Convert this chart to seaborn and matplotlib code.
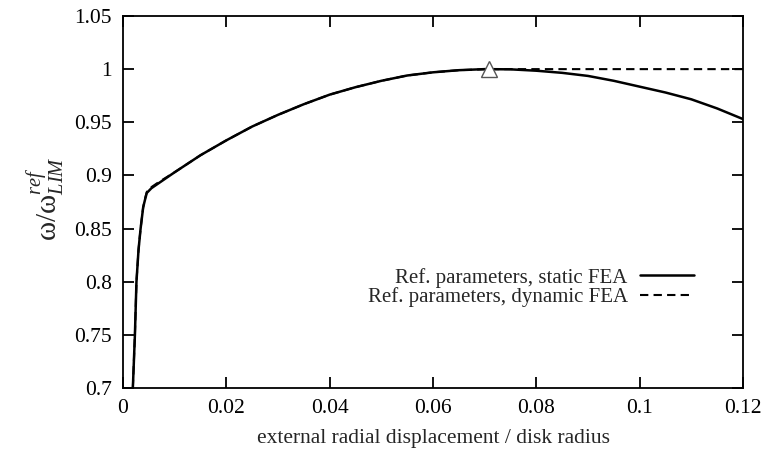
import numpy as np
import pandas as pd
import seaborn as sns
import matplotlib.pyplot as plt

# values
x_static = [0.0019, 0.0023, 0.0026, 0.0030, 0.0034, 0.0039, 0.0043, 0.0046,
            0.0055, 0.007, 0.01, 0.015, 0.02, 0.025, 0.03, 0.035, 0.04,
            0.045, 0.05, 0.055, 0.06, 0.065, 0.07, 0.075, 0.08, 0.085,
            0.09, 0.095, 0.1, 0.105, 0.11, 0.115, 0.12]
y_static = [0.70, 0.75, 0.80, 0.83, 0.85, 0.87, 0.878, 0.8835,
            0.888, 0.893, 0.903, 0.919, 0.933, 0.946, 0.957, 0.967, 0.976,
            0.983, 0.989, 0.994, 0.997, 0.999, 1.0, 0.9998, 0.9985, 0.9965,
            0.9936, 0.989, 0.9835, 0.978, 0.9716, 0.963, 0.953]

x_dynamic = [0.0019, 0.0023, 0.0026, 0.0030, 0.0034, 0.0039, 0.0043, 0.0046,
             0.0055, 0.007, 0.01, 0.015, 0.02, 0.025, 0.03, 0.035, 0.04,
             0.045, 0.05, 0.055, 0.06, 0.065, 0.0708, 0.12]
y_dynamic = [0.70, 0.75, 0.80, 0.83, 0.85, 0.87, 0.879, 0.8845,
             0.889, 0.894, 0.903, 0.919, 0.933, 0.946, 0.957, 0.967, 0.976,
             0.983, 0.989, 0.994, 0.997, 0.999, 1.0, 1.0]

x_peak = [0.0708]
y_peak = [1.0]

x_ticks = [0, 0.02, 0.04, 0.06, 0.08, 0.1, 0.12]
x_ticklabels = ["0", "0.02", "0.04", "0.06", "0.08", "0.1", "0.12"]
y_ticks = [0.7, 0.75, 0.8, 0.85, 0.9, 0.95, 1.0, 1.05]
y_ticklabels = ["0.7", "0.75", "0.8", "0.85", "0.9", "0.95", "1", "1.05"]


def main():
    sns.set_style("ticks")
    plt.rcParams["font.family"] = ["Liberation Serif", "DejaVu Serif"]
    plt.rcParams["mathtext.fontset"] = "custom"
    plt.rcParams["mathtext.rm"] = "Liberation Serif"
    plt.rcParams["mathtext.it"] = "Liberation Serif:italic"

    fig = plt.figure(figsize=(7.67, 4.54), dpi=100)
    ax = fig.add_axes([0.1604, 0.1454, 0.8083, 0.8194])

    df_static = pd.DataFrame({"x": x_static, "y": y_static})
    df_dynamic = pd.DataFrame({"x": x_dynamic, "y": y_dynamic})

    sns.lineplot(data=df_static, x="x", y="y", ax=ax, color="black",
                 linewidth=1.8, label="Ref. parameters, static FEA",
                 sort=False)
    sns.lineplot(data=df_dynamic, x="x", y="y", ax=ax, color="black",
                 linewidth=1.5, linestyle=(0, (4, 2.5)),
                 label="Ref. parameters, dynamic FEA", sort=False)
    ax.plot(x_peak, y_peak, marker="^", markersize=11, markerfacecolor="white",
            markeredgecolor="#555555", markeredgewidth=1.0, linestyle="none",
            zorder=5)

    ax.set_xlim(0, 0.12)
    ax.set_ylim(0.7, 1.05)
    ax.set_xticks(x_ticks)
    ax.set_xticklabels(x_ticklabels)
    ax.set_yticks(y_ticks)
    ax.set_yticklabels(y_ticklabels)
    ax.tick_params(direction="in", length=8, width=1.3, top=True, right=True,
                   labelsize=15.5, pad=8, colors="black")
    for side in ax.spines.values():
        side.set_linewidth(1.3)
        side.set_color("black")

    ax.set_xlabel("external radial displacement / disk radius", fontsize=15.5,
                  labelpad=8)
    ax.set_ylabel(r"$\mathrm{\omega}/\mathrm{\omega}^{ref}_{LIM}$",
                  fontsize=21, labelpad=8)
    ax.yaxis.set_label_coords(-0.092, 0.51)

    leg = ax.legend(loc="center right", bbox_to_anchor=(0.952, 0.27),
                    frameon=False, markerfirst=False, fontsize=15,
                    handlelength=2.6, handletextpad=0.6, labelspacing=0.0)
    for t in leg.get_texts():
        t.set_ha("right")

    fig.savefig("out.png", dpi=100)


if __name__ == "__main__":
    main()
